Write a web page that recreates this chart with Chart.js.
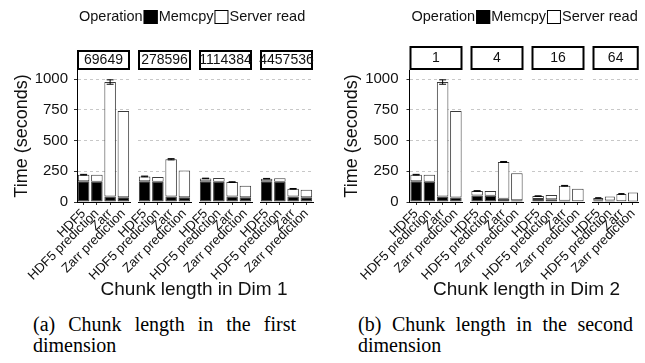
<!DOCTYPE html>
<html>
<head>
<meta charset="utf-8">
<script src="https://cdn.jsdelivr.net/npm/chart.js@4.4.1/dist/chart.umd.min.js"></script>
<style>
  html, body { margin: 0; padding: 0; background: #fff; overflow: hidden; width: 645px; height: 363px; }
  #stage { position: absolute; left: 0; top: 0; width: 645px; height: 363px; }
  #stage canvas { position: absolute; top: 0; }
  .cap { position: absolute; top: 314px; font: 20px/21px "Liberation Serif", serif; text-align: justify; color: #000; }
</style>
</head>
<body>
<div id="stage">
  <div class="cap" style="left:33px; width:263px;">(a) Chunk length in the first dimension</div>
  <div class="cap" style="left:358px; width:275px;">(b) Chunk length in the second dimension</div>
</div>
<script>
const methods = ['HDF5', 'HDF5 prediction', 'Zarr', 'Zarr prediction'];
const yTicks = [0, 250, 500, 750, 1000];

const dim1Chunks = ['69649', '278596', '1114384', '4457536'];
const dim1Memcpy = [
  [168, 165, 45, 38],
  [168, 165, 45, 38],
  [170, 165, 45, 38],
  [170, 165, 45, 38]
];
const dim1ServerRead = [
  [54, 57, 932, 704],
  [40, 38, 303, 218],
  [22, 30, 117, 94],
  [20, 28, 62, 61]
];
const dim1Error = [
  [3, 0, 18, 0],
  [3, 0, 5, 0],
  [2, 0, 3, 0],
  [2, 0, 3, 0]
];

const dim2Chunks = ['1', '4', '16', '64'];
const dim2Memcpy = [
  [168, 165, 45, 36],
  [52, 50, 27, 15],
  [25, 22, 10, 6],
  [14, 12, 6, 4]
];
const dim2ServerRead = [
  [54, 57, 932, 706],
  [38, 40, 299, 219],
  [23, 36, 122, 101],
  [19, 33, 60, 73]
];
const dim2Error = [
  [3, 0, 18, 0],
  [2, 0, 4, 0],
  [2, 0, 3, 0],
  [1, 0, 2, 0]
];

const FONT = 'Liberation Sans';
const PANEL_W = 53;
const stage = document.getElementById('stage');

const strip = {
  id: 'strip',
  afterDraw(chart, args, opts) {
    const {left, right, top} = chart.chartArea;
    const ctx = chart.ctx;
    ctx.save();
    ctx.fillStyle = '#fff';
    ctx.fillRect(left, opts.top, right - left, top - opts.top);
    ctx.strokeStyle = '#000';
    ctx.lineWidth = 2;
    ctx.strokeRect(left + 1, opts.top + 1, right - left - 2, top - opts.top - 2);
    ctx.fillStyle = '#111';
    ctx.font = '14px "' + FONT + '"';
    ctx.textAlign = 'center';
    ctx.textBaseline = 'middle';
    ctx.fillText(opts.text, (left + right) / 2, (opts.top + top) / 2 + 0.5);
    ctx.restore();
  }
};

const errorBars = {
  id: 'errorBars',
  afterDatasetsDraw(chart, args, opts) {
    const ctx = chart.ctx;
    const y = chart.scales.y;
    const meta = chart.getDatasetMeta(1);
    ctx.save();
    ctx.strokeStyle = '#000';
    ctx.lineWidth = 1;
    opts.err.forEach((e, i) => {
      if (!e) return;
      const total = chart.data.datasets[0].data[i] + chart.data.datasets[1].data[i];
      const bar = meta.data[i];
      const w = bar.width * 0.3;
      const y1 = y.getPixelForValue(total - e);
      const y2 = y.getPixelForValue(total + e);
      ctx.beginPath();
      ctx.moveTo(bar.x, y1); ctx.lineTo(bar.x, y2);
      ctx.moveTo(bar.x - w, y1); ctx.lineTo(bar.x + w, y1);
      ctx.moveTo(bar.x - w, y2); ctx.lineTo(bar.x + w, y2);
      ctx.stroke();
    });
    ctx.restore();
  }
};

// legend row and the shared x axis title, drawn once per figure
const frame = {
  id: 'frame',
  afterDraw(chart, args, opts) {
    const ctx = chart.ctx;
    ctx.save();
    ctx.textBaseline = 'middle';
    ctx.textAlign = 'left';
    ctx.font = '14.5px "' + FONT + '"';
    const y = 17;
    let x = opts.legendX;
    ctx.fillStyle = '#111';
    ctx.fillText('Operation', x, y);
    x += ctx.measureText('Operation').width + 1;
    chart.data.datasets.forEach(ds => {
      ctx.fillStyle = ds.backgroundColor;
      ctx.fillRect(x, y - 7, 14, 14);
      ctx.strokeStyle = '#000';
      ctx.lineWidth = 1;
      ctx.strokeRect(x + 0.5, y - 6.5, 13, 13);
      x += 15;
      ctx.fillStyle = '#111';
      ctx.fillText(ds.label, x, y);
      x += ctx.measureText(ds.label).width + 1;
    });
    ctx.font = '19px "' + FONT + '"';
    ctx.textAlign = 'center';
    ctx.fillText(opts.xTitle, opts.titleX, 290);
    ctx.restore();
  }
};

function facetRow(cfg) {
  cfg.chunks.forEach((chunk, k) => {
    const first = k === 0;
    const panelLeft = cfg.lefts[k];
    const yW = first ? panelLeft - 11.2 : 0;
    const cv = document.createElement('canvas');
    cv.width = cfg.width;
    cv.height = 363;
    cv.style.left = cfg.left + 'px';
    stage.appendChild(cv);
    new Chart(cv, {
      type: 'bar',
      data: {
        labels: methods,
        datasets: [
          { label: 'Memcpy', data: cfg.memcpy[k], backgroundColor: '#000', borderColor: '#3a3a3a', borderWidth: 1, borderSkipped: false },
          { label: 'Server read', data: cfg.serverRead[k], backgroundColor: '#fff', borderColor: '#3a3a3a', borderWidth: 1, borderSkipped: false }
        ]
      },
      options: {
        responsive: false,
        animation: false,
        devicePixelRatio: 1,
        layout: {
          padding: {
            left: panelLeft - yW,
            right: Math.max(0, cfg.width - panelLeft - PANEL_W),
            top: 70,
            bottom: 81
          }
        },
        datasets: { bar: { categoryPercentage: 1, barPercentage: 0.87 } },
        plugins: {
          legend: { display: false },
          tooltip: { enabled: false },
          strip: { text: chunk, top: cfg.stripTop },
          errorBars: { err: cfg.errors[k] },
          frame: {
            legendX: panelLeft + 2,
            titleX: (cfg.lefts[0] + cfg.lefts[3] + PANEL_W) / 2 - 1,
            xTitle: cfg.xTitle
          }
        },
        scales: {
          x: {
            stacked: true,
            offset: true,
            afterFit: s => { s.height = 80; },
            grid: { display: true, offset: false, drawOnChartArea: false, drawTicks: true, tickLength: 3, tickColor: '#333' },
            border: { display: true, color: '#000', width: 1 },
            ticks: {
              autoSkip: false, minRotation: 45, maxRotation: 45, padding: 1,
              color: '#111', font: { family: FONT, size: 13 }
            }
          },
          y: {
            stacked: true,
            min: 0,
            max: 1075,
            afterBuildTicks: s => { s.ticks = yTicks.map(v => ({ value: v })); },
            afterFit: s => { s.width = yW; },
            grid: {
              color: c => (c.tick && c.tick.value === 0) ? 'rgba(0,0,0,0)' : '#c8c8c8',
              drawTicks: first, tickLength: 3, tickColor: '#333', lineWidth: 1
            },
            border: { display: first, color: '#000', width: 1, dash: [3, 3] },
            ticks: {
              display: first, padding: cfg.tickPad, color: '#111',
              font: { family: FONT, size: 15 },
              callback: v => String(v)
            },
            title: {
              display: first, text: 'Time (seconds)', color: '#111',
              font: { family: FONT, size: 18 }, padding: { top: 0, bottom: 0 }
            }
          }
        }
      },
      plugins: first ? [strip, errorBars, frame] : [strip, errorBars]
    });
  });
}

facetRow({
  left: 0, width: 330, lefts: [77, 138, 199, 260], stripTop: 50, tickPad: 6,
  chunks: dim1Chunks, memcpy: dim1Memcpy, serverRead: dim1ServerRead, errors: dim1Error,
  xTitle: 'Chunk length in Dim 1'
});
facetRow({
  left: 330, width: 315, lefts: [79.5, 140.5, 201.5, 262.5], stripTop: 46, tickPad: 8,
  chunks: dim2Chunks, memcpy: dim2Memcpy, serverRead: dim2ServerRead, errors: dim2Error,
  xTitle: 'Chunk length in Dim 2'
});
</script>
</body>
</html>
